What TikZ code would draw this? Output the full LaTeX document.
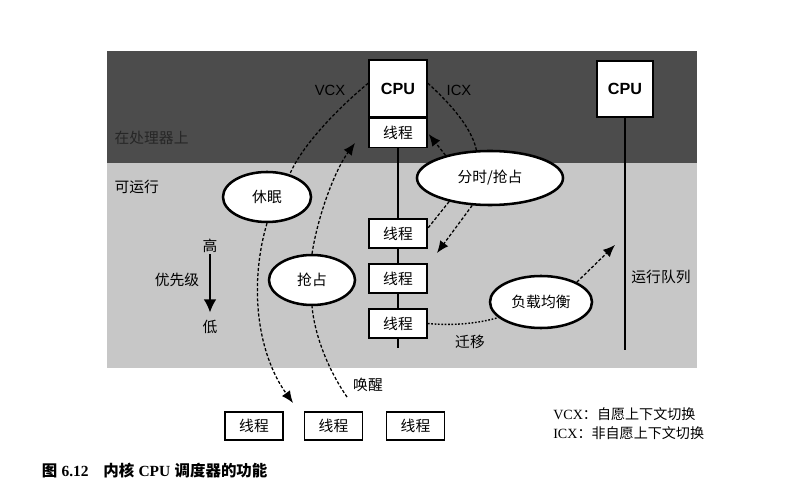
\documentclass[tikz,border=0pt]{standalone}
\usepackage{fontspec}
\setmainfont{Liberation Sans}
\newfontfamily\cjk{Noto Sans CJK SC}
\newfontfamily\serif{Liberation Serif}
\usetikzlibrary{arrows.meta,shapes.geometric,positioning}

\tikzset{
  box/.style={draw, line width=1.2pt, fill=white, minimum width=1.45cm, minimum height=0.72cm,
    inner sep=0pt, font=\cjk\fontsize{10.5}{12}\selectfont},
  cpubox/.style={box, minimum height=1.42cm, font=\bfseries\fontsize{11.5}{13}\selectfont},
  oval/.style={ellipse, draw, line width=1.8pt, fill=white, inner sep=0pt,
    font=\cjk\fontsize{10.5}{12}\selectfont},
  lbl/.style={font=\cjk\fontsize{10.5}{12}\selectfont, inner sep=1pt},
  runline/.style={line width=1.9pt},
  flow/.style={dash pattern=on 2.2pt off 1.4pt, line width=0.9pt},
  arrowflow/.style={flow, -{Latex[length=3mm,width=2.5mm]}},
  dotline/.style={dash pattern=on 1.2pt off 1.2pt, line width=1pt},
}

\begin{document}
\begin{tikzpicture}[x=0.025cm, y=-0.025cm]
\useasboundingbox (0,0) rectangle (788,497);

% the two bands
\fill[black!70] (107,51) rectangle (697,163);
\fill[black!22] (107,163) rectangle (697,368);
\node[lbl, anchor=west, text=black!85] (oncpu) at (113,138) {在处理器上};
\node[lbl, anchor=west] (runnable) at (113,187) {可运行};

% free ends
\coordinate (endA) at (398,348);
\coordinate (endB) at (625,350);
\coordinate (upA) at (355,143);
\coordinate (backA) at (437,253);
\coordinate (sleepEnd) at (293,403);
\coordinate (wakeStart) at (347,397);
\coordinate (toB) at (615,245);

% CPU 0 and its run queue
\node[cpubox] (cpuA) at (398,88.5) {CPU};
\node[box, anchor=north] (curA) at (cpuA.south) {线程};
\node[box] (qA1) at (398,233.5) {线程};
\node[box] (qA2) at (398,278.5) {线程};
\node[box] (qA3) at (398,323.5) {线程};
\draw[runline] (curA) -- (qA1) -- (qA2) -- (qA3) -- (endA);

% CPU 1
\node[cpubox, minimum width=1.4cm, minimum height=1.4cm] (cpuB) at (625,89) {CPU};
\draw[runline] (cpuB) -- (endB);
\node[lbl] (queue) at (661,277) {运行队列};

% events
\node[oval, minimum width=2.2cm, minimum height=1.25cm] (sleep) at (267,197) {休眠};
\node[oval, minimum width=2.15cm, minimum height=1.25cm] (preempt) at (312,280) {抢占};
\node[oval, minimum width=3.65cm, minimum height=1.35cm] (tslice) at (490,178) {分时/抢占};
\node[oval, minimum width=2.55cm, minimum height=1.3cm] (balance) at (541,302) {负载均衡};

\node[font=\fontsize{10.5}{12}\selectfont] (vcx) at (330,90) {VCX};
\node[font=\fontsize{10.5}{12}\selectfont] (icx) at (459,90) {ICX};
\node[lbl] (migrate) at (470,342) {迁移};
\node[lbl] (wake) at (368,385) {唤醒};

% priority
\node[lbl] (high) at (210,246) {高};
\node[lbl] (low) at (210,327) {低};
\node[lbl] (prio) at (177,280) {优先级};
\draw[line width=1.3pt, -{Latex[length=3.3mm,width=3.2mm]}, shorten >=1.5mm] (high) -- (low);

% sleeping threads
\node[box, minimum height=0.7cm] (wA) at (254,426) {线程};
\node[box, minimum height=0.7cm] (wB) at (333.5,426) {线程};
\node[box, minimum height=0.7cm] (wC) at (415.5,426) {线程};

% switches
\draw[flow] (cpuA.170) .. controls (330,115) and (300,150) .. (sleep.45);
\draw[flow] (cpuA.10) .. controls (455,108) and (472,130) .. (tslice.116);
\draw[arrowflow, shorten >=1pt] (tslice.153) -- (curA.east);
\draw[flow] (tslice.210) -- (qA1.10);
\draw[arrowflow] (tslice.237) -- (backA);
\draw[arrowflow] (preempt.north) .. controls (318,215) and (335,170) .. (upA);
\draw[arrowflow] (sleep.south) .. controls (250,280) and (255,350) .. (sleepEnd);
\draw[flow] (wakeStart) .. controls (325,365) and (314,330) .. (preempt.south);
\draw[dotline] (qA3.east) .. controls (455,326) and (480,323) .. (balance.200);
\draw[arrowflow] (balance.29) -- (toB);

% legend
\node[anchor=west, font=\fontsize{10}{12}\selectfont, inner sep=0pt] (keyV) at (553,414) {{\serif VCX}{\cjk ：自愿上下文切换}};
\node[anchor=west, font=\fontsize{10}{12}\selectfont, inner sep=0pt] (keyI) at (553,433) {{\serif ICX}{\cjk ：非自愿上下文切换}};

% caption
\node[anchor=west, font=\bfseries\fontsize{11}{13}\selectfont, inner sep=0pt] (capt) at (103,471) {{\cjk 内核} {\serif CPU} {\cjk 调度器的功能}};
\node[left=0.35cm of capt, font=\bfseries\fontsize{11}{13}\selectfont, inner sep=0pt] (capn) {{\cjk 图} {\serif 6.12}};
\end{tikzpicture}
\end{document}
